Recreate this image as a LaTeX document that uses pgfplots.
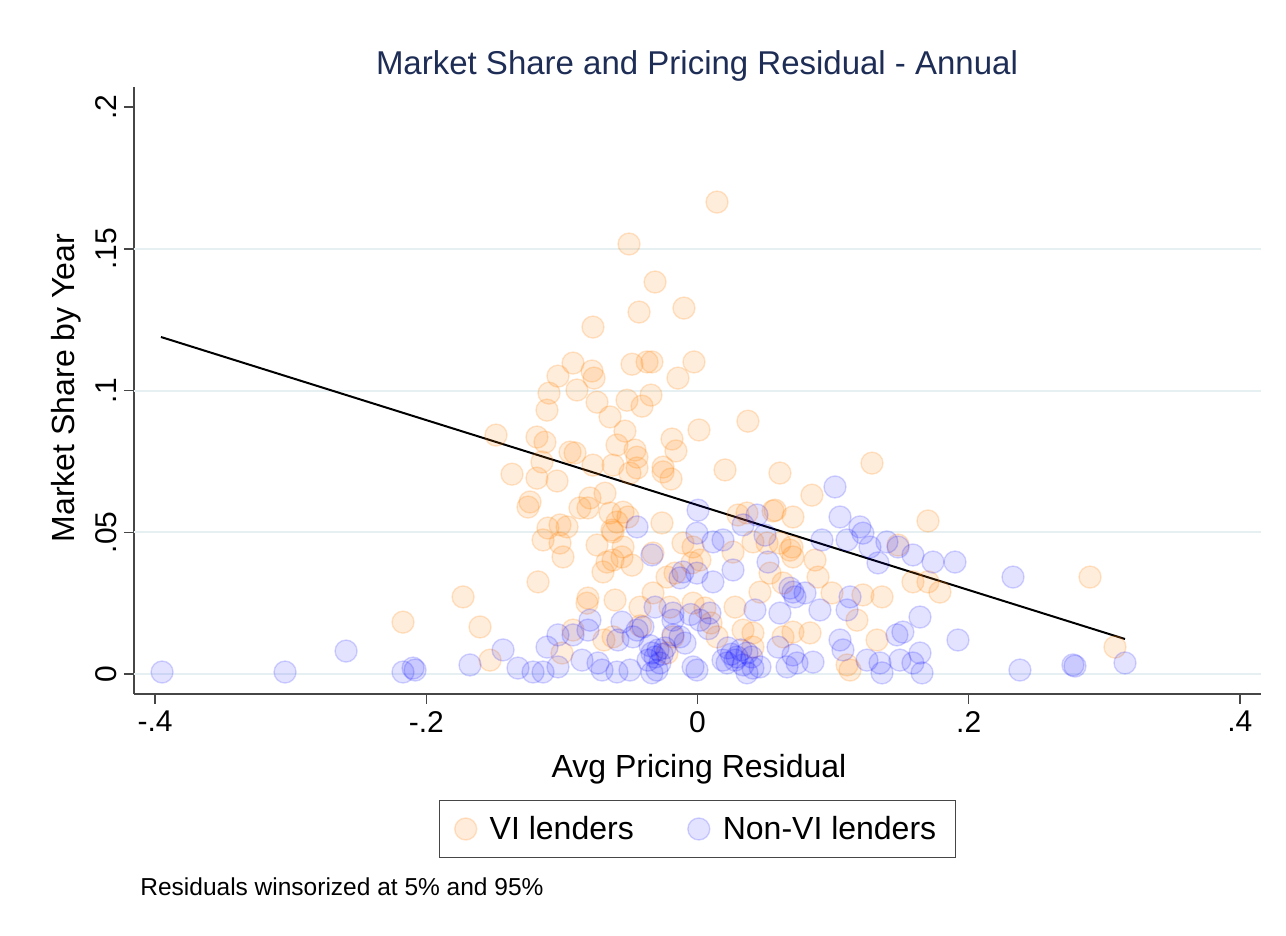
\documentclass[border=0pt]{standalone}
\usepackage{fontspec}
\setmainfont{Liberation Sans}
\usepackage{pgfplots}
\pgfplotsset{compat=1.18}

\definecolor{vi}{RGB}{255,127,0}
\definecolor{nonvi}{RGB}{0,0,255}
\definecolor{titlecol}{RGB}{30,45,85}
\definecolor{gridc}{RGB}{230,240,243}
\definecolor{axcol}{RGB}{70,70,70}

\begin{document}
\begin{tikzpicture}
\path[use as bounding box] (-67pt,-121pt) rectangle (576pt,347pt);
\begin{axis}[
    at={(0,0)}, anchor=south west,
    scale only axis, width=563.5pt, height=303.5pt,
    xmin=-0.4156, xmax=0.4156, ymin=-0.00705, ymax=0.2071,
    axis x line=bottom, axis y line=left,
    axis line style={-, draw=axcol, line width=0.75pt},
    xtick={-0.4,-0.2,0,0.2,0.4}, xticklabels={-.4,-.2,0,.2,.4},
    ytick={0,0.05,0.1,0.15,0.2}, yticklabels={0,.05,.1,.15,.2},
    tick align=outside, major tick length=5pt,
    tick style={draw=axcol, line width=0.75pt},
    ticklabel style={font=\fontsize{15}{18}\selectfont},
    yticklabel style={rotate=90, anchor=south},
    extra y ticks={0,0.05,0.1,0.15}, extra y tick labels={},
    extra y tick style={grid=major, major tick length=0pt},
    grid style={draw=gridc, line width=1pt},
    legend columns=2,
    legend style={at={(0.5,-0.2224)}, anchor=center, draw=axcol, line width=0.75pt,
        font=\fontsize{16}{19}\selectfont, inner xsep=7.5pt, inner ysep=5.75pt,
        /tikz/every odd column/.append style={column sep=4.5pt},
        /tikz/every even column/.append style={column sep=25pt}},
    legend cell align=left,
]

% VI lenders
\addplot[only marks, mark=*, mark size=5.5pt,
    mark options={draw=vi, fill=vi, draw opacity=0.2, fill opacity=0.14, line width=0.7pt}]
coordinates {
(0.0144,0.1665) (-0.0505,0.1517) (-0.0313,0.1383) (-0.0100,0.1291) (-0.0431,0.1277)
(-0.0771,0.1224) (-0.0918,0.1097) (-0.0778,0.1069) (-0.0763,0.1044) (-0.0483,0.1093)
(-0.0372,0.1101) (-0.0336,0.1101) (-0.0026,0.1101) (-0.1029,0.1051) (-0.1095,0.0991)
(-0.0889,0.1002) (-0.0741,0.0959) (-0.0520,0.0966) (-0.0343,0.0984) (-0.0409,0.0945)
(-0.0144,0.1044) (-0.1110,0.0931) (-0.0645,0.0907) (-0.0535,0.0857) (0.0011,0.0861)
(0.0372,0.0892) (-0.1486,0.0843) (-0.1184,0.0836) (-0.1125,0.0818) (-0.0594,0.0808)
(-0.0188,0.0829) (-0.0159,0.0787) (-0.0461,0.0790) (-0.0446,0.0765) (-0.0940,0.0783)
(-0.0903,0.0780) (-0.1147,0.0748) (-0.0771,0.0737) (-0.0623,0.0737) (-0.0446,0.0727)
(-0.0254,0.0730) (-0.0254,0.0713) (-0.1368,0.0705) (-0.1184,0.0691) (-0.1036,0.0681)
(0.0203,0.0720) (0.0608,0.0709) (-0.0498,0.0709) (-0.0195,0.0688) (-0.0793,0.0621)
(-0.0682,0.0638) (-0.0867,0.0586) (-0.0808,0.0586) (-0.0645,0.0568) (-0.0549,0.0571)
(-0.0513,0.0554) (-0.0594,0.0536) (-0.0631,0.0508) (-0.0262,0.0533) (0.0299,0.0561)
(0.0557,0.0575) (0.0704,0.0554) (-0.1103,0.0515) (-0.1014,0.0526) (-0.0962,0.0519)
(-0.1139,0.0473) (-0.1014,0.0462) (-0.0741,0.0455) (-0.0549,0.0448) (-0.0107,0.0462)
(-0.0033,0.0448) (0.0608,0.0462) (0.0697,0.0448) (-0.1235,0.0607) (-0.1250,0.0589)
(-0.0992,0.0413) (-0.0623,0.0501) (-0.0623,0.0402) (-0.0667,0.0395) (-0.0697,0.0360)
(-0.0483,0.0384) (-0.0557,0.0413) (-0.1176,0.0325) (-0.1729,0.0272) (-0.1604,0.0166)
(-0.2172,0.0183) (-0.1530,0.0049) (-0.0815,0.0250) (-0.0808,0.0268) (-0.0608,0.0261)
(-0.0424,0.0236) (-0.0328,0.0286) (-0.0203,0.0236) (-0.0166,0.0356) (-0.0041,0.0392)
(0.0018,0.0402) (-0.0033,0.0250) (0.0055,0.0233) (0.0277,0.0236) (0.0262,0.0430)
(0.0409,0.0466) (0.0513,0.0462) (0.0535,0.0356) (0.0461,0.0289) (0.0631,0.0321)
(0.0682,0.0437) (0.0572,0.0578) (0.0365,0.0568) (-0.0328,0.0427) (-0.0225,0.0342)
(-0.0623,0.0131) (-0.0918,0.0155) (-0.0999,0.0074) (0.0336,0.0155) (0.0409,0.0145)
(0.0144,0.0131) (-0.0225,0.0074) (-0.0181,0.0131) (0.0631,0.0131) (0.1287,0.0744)
(0.0844,0.0631) (0.1700,0.0540) (0.0867,0.0402) (0.0889,0.0342) (0.0992,0.0286)
(0.1220,0.0279) (0.1361,0.0272) (0.1479,0.0455) (0.1589,0.0325) (0.1700,0.0325)
(0.1788,0.0289) (0.2895,0.0342) (0.3079,0.0095) (0.1176,0.0190) (0.0704,0.0148)
(0.0830,0.0145) (0.1324,0.0120) (0.1103,0.0032) (0.1125,0.0014) (0.0409,0.0095)
(0.0704,0.0413) (-0.0690,0.0120) (-0.0420,0.0170) (0.0100,0.0180)
};
\addlegendentry{VI lenders}

% Non-VI lenders
\addplot[only marks, mark=*, mark size=5.5pt,
    mark options={draw=nonvi, fill=nonvi, draw opacity=0.16, fill opacity=0.11, line width=0.7pt}]
coordinates {
(-0.3949,0.0007) (-0.3042,0.0007) (-0.2592,0.0081) (-0.2172,0.0007) (-0.2098,0.0021)
(-0.2083,0.0014) (-0.1678,0.0032) (-0.1434,0.0085) (-0.1324,0.0021) (-0.1213,0.0007)
(-0.1139,0.0007) (-0.1110,0.0095) (-0.1029,0.0025) (-0.1029,0.0138) (-0.0918,0.0138)
(-0.0808,0.0155) (-0.0793,0.0190) (-0.0852,0.0049) (-0.0704,0.0014) (-0.0594,0.0007)
(-0.0498,0.0014) (-0.0557,0.0183) (-0.0446,0.0155) (-0.0402,0.0166) (-0.0476,0.0131)
(-0.0365,0.0049) (-0.0313,0.0060) (-0.0336,0.0074) (-0.0291,0.0085) (-0.0277,0.0039)
(-0.0299,0.0014) (-0.0336,0.0004) (-0.0240,0.0092) (-0.0181,0.0138) (-0.0129,0.0131)
(-0.0092,0.0109) (-0.0033,0.0025) (-0.0004,0.0014) (0.0018,0.0190) (0.0092,0.0215)
(-0.0313,0.0236) (-0.0181,0.0215) (-0.0181,0.0190) (-0.0446,0.0519) (-0.0336,0.0420)
(-0.0107,0.0360) (-0.0129,0.0339) (-0.0004,0.0356) (0.0114,0.0325) (0.0004,0.0578)
(-0.0004,0.0497) (0.0114,0.0466) (0.0188,0.0473) (0.0262,0.0367) (0.0336,0.0526)
(0.0439,0.0561) (0.0498,0.0490) (0.0520,0.0395) (0.0682,0.0303) (0.0719,0.0272)
(0.0424,0.0226) (0.0608,0.0215) (0.0225,0.0092) (0.0291,0.0060) (0.0365,0.0074)
(0.0336,0.0032) (0.0409,0.0021) (0.0365,0.0004) (0.0218,0.0039) (0.0277,0.0049)
(0.0594,0.0095) (0.0660,0.0025) (0.0704,0.0067) (0.1014,0.0660) (0.1051,0.0554)
(0.1198,0.0519) (0.1220,0.0497) (0.0918,0.0473) (0.1103,0.0473) (0.1272,0.0448)
(0.1397,0.0466) (0.1479,0.0448) (0.1589,0.0420) (0.1737,0.0395) (0.1899,0.0395)
(0.1331,0.0392) (0.2327,0.0342) (0.0704,0.0289) (0.0793,0.0286) (0.0903,0.0226)
(0.1125,0.0272) (0.1103,0.0226) (0.1641,0.0201) (0.1515,0.0148) (0.1471,0.0138)
(0.1921,0.0120) (0.1641,0.0074) (0.1051,0.0120) (0.1073,0.0085) (0.1250,0.0049)
(0.1346,0.0039) (0.1361,0.0004) (0.1493,0.0049) (0.1589,0.0039) (0.1656,0.0004)
(0.0852,0.0042) (0.0734,0.0039) (0.0461,0.0025) (0.2378,0.0014) (0.2769,0.0032)
(0.2784,0.0028) (0.3153,0.0039) (-0.0587,0.0120) (-0.0734,0.0039) (0.0188,0.0049)
(0.0250,0.0070) (0.0320,0.0085) (0.0400,0.0060) (-0.0260,0.0070) (-0.0350,0.0100)
(0.0080,0.0160) (-0.0050,0.0210)
};
\addlegendentry{Non-VI lenders}

% linear fit
\addplot[black, line width=1pt, forget plot] coordinates {(-0.3957,0.1189) (0.3153,0.01235)};
\end{axis}

\node[anchor=base, text=titlecol, font=\fontsize{16.5}{20}\selectfont] at (281.5pt,309.5pt) {Market Share and Pricing Residual - Annual};
\node[anchor=base, font=\fontsize{16}{19}\selectfont] at (282.5pt,-42pt) {Avg Pricing Residual};
\node[anchor=base, rotate=90, font=\fontsize{16}{19}\selectfont] at (-30pt,153pt) {Market Share by Year};
\node[anchor=base west, inner sep=0pt, font=\fontsize{12.25}{15}\selectfont] at (3pt,-101pt) {Residuals winsorized at 5\% and 95\%};
\end{tikzpicture}
\end{document}
